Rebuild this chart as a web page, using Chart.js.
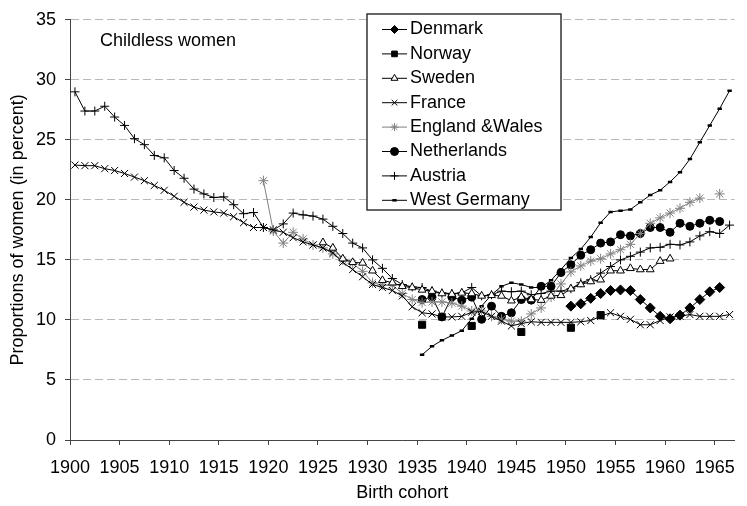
<!DOCTYPE html>
<html>
<head>
<meta charset="utf-8">
<title>Childless women</title>
<script src="https://cdn.jsdelivr.net/npm/chart.js@4.4.0/dist/chart.umd.min.js"></script>
<style>
  body { margin: 0; background: #fff; }
</style>
</head>
<body>
<canvas id="myChart" width="747" height="506"></canvas>
<script>
// birth cohorts, each series = first cohort + list of values (null = no data)
const denmarkStart = 1950
const denmark = [11.15, 11.35, 11.8, 12.2, 12.45, 12.5, 12.45, 11.7, 11.0, 10.3, 10.1, 10.4, 11.0, 11.7, 12.35, 12.7]

const norwayYears = [1935, 1940, 1945, 1950, 1953]
const norway = [9.6, 9.5, 9.0, 9.35, 10.4]

const swedenStart = 1925
const sweden = [16.45, 16.0, 15.1, 14.8, 14.75, 14.1, 13.3, 13.1, 12.8, 12.7,
  12.5, 12.4, 12.2, 12.15, 12.25, 12.2, 12.0, 12.05, 12.0, 11.6,
  11.9, 11.7, 11.65, 12.0, 12.05, 12.6, 12.95, 13.2, 13.35, 14.1,
  14.1, 14.3, 14.2, 14.2, 14.9, 15.1]

const franceStart = 1900
const france = [22.9, 22.85, 22.85, 22.6, 22.45, 22.2, 21.9, 21.6, 21.2, 20.8,
  20.3, 19.8, 19.4, 19.15, 19.0, 18.9, 18.6, 18.1, 17.7, 17.7,
  17.5, 17.3, 16.85, 16.5, 16.25, 16.0, 15.6, 14.8, 14.2, 13.6,
  12.95, 12.7, 12.45, 12.0, 11.1, 10.6, 10.5, 10.25, 10.25, 10.3,
  10.65, 10.7, 10.3, 9.9, 9.5, 9.7, 9.85, 9.8, 9.8, 9.8,
  9.8, 9.85, 9.95, 10.3, 10.6, 10.3, 10.05, 9.6, 9.6, 9.95,
  10.25, 10.3, 10.45, 10.3, 10.3, 10.3, 10.45]

const englandStart = 1919
const england = [21.6, 17.4, 16.4, 17.3, 16.75, 16.25, 16.0, 15.5, 15.0, 14.7,
  14.05, 13.1, 12.9, 12.9, 12.2, 11.7, 11.45, 11.5, 11.5, 11.4,
  11.15, 10.75, 10.75, 10.3, 10.05, 9.9, 9.9, 10.5, 11.0, 11.9,
  13.0, 14.0, 14.5, 14.9, 15.1, 15.5, 15.85, 16.3, 17.2, 18.05,
  18.5, 18.9, 19.3, 19.8, 20.15, null, 20.5]

const netherlandsStart = 1935
const netherlands = [11.7, 11.9, 10.25, 11.9, 11.65, 11.9, 10.05, 11.15, 10.3, 10.6,
  11.7, 11.65, 12.8, 12.8, 13.95, 14.6, 15.4, 15.85, 16.4, 16.5,
  17.1, 17.0, 17.2, 17.7, 17.7, 17.3, 18.05, 17.8, 18.05, 18.3, 18.2]

const austriaStart = 1900
const austria = [29.0, 27.4, 27.4, 27.8, 26.9, 26.2, 25.1, 24.6, 23.7, 23.5,
  22.45, 21.8, 20.9, 20.5, 20.2, 20.25, 19.6, 18.85, 18.95, 17.7,
  17.5, 18.0, 18.9, 18.75, 18.65, 18.4, 17.8, 17.2, 16.4, 16.0,
  15.0, 14.3, 13.45, 12.95, 12.75, 12.7, 12.4, 12.25, 12.2, 12.25,
  12.7, 12.0, 12.1, 12.4, 12.35, 12.4, 12.1, 12.2, 12.4, 12.4,
  12.6, 13.1, 13.35, 13.9, 14.45, 15.0, 15.3, 15.65, 16.0, 16.05,
  16.3, 16.25, 16.5, 17.0, 17.35, 17.2, 17.9]

const westGermanyStart = 1935
const westGermany = [7.1, 7.8, 8.3, 8.7, 9.1, 10.1, 11.15, 12.1, 12.8, 13.1,
  12.95, 12.7, 12.7, 13.3, 14.2, 15.15, 15.9, 16.9, 18.1, 19.0,
  19.1, 19.2, 19.8, 20.4, 20.8, 21.5, 22.3, 23.4, 24.8, 26.2,
  27.6, 29.1]

const yTicks = [0, 5, 10, 15, 20, 25, 30, 35]
const xFirst = 1900
const xLast = 1967

// a cohort is plotted in the middle of its year
function pts(start, values) {
  return values.map((v, i) => ({ x: start + i + 0.5, y: v }))
}

const ctx = document.getElementById('myChart')
const FONT = "'Liberation Sans', Arial, sans-serif"
Chart.defaults.font.family = FONT
Chart.defaults.font.size = 18
Chart.defaults.color = '#000'

const black = '#000'
const grey = '#808080'

const series = [
  { label: 'Denmark', data: pts(denmarkStart, denmark), pointStyle: 'rectRot', pointRadius: 5, borderColor: black, backgroundColor: black },
  { label: 'Norway', data: norwayYears.map((y, i) => ({ x: y + 0.5, y: norway[i] })), showLine: false, pointStyle: 'rect', pointRadius: 5, borderColor: black, backgroundColor: black },
  { label: 'Sweden', data: pts(swedenStart, sweden), pointStyle: 'triangle', pointRadius: 4.5, borderColor: black, backgroundColor: '#fff' },
  { label: 'France', data: pts(franceStart, france), pointStyle: 'crossRot', pointRadius: 5, borderColor: black, backgroundColor: black },
  { label: 'England &Wales', data: pts(englandStart, england), pointStyle: 'star', pointRadius: 5, borderColor: grey, backgroundColor: grey },
  { label: 'Netherlands', data: pts(netherlandsStart, netherlands), pointStyle: 'circle', pointRadius: 4, borderColor: black, backgroundColor: black },
  { label: 'Austria', data: pts(austriaStart, austria), pointStyle: 'cross', pointRadius: 4.5, borderColor: black, backgroundColor: black },
  { label: 'West Germany', data: pts(westGermanyStart, westGermany), pointStyle: 'line', pointRadius: 2.2, pointBorderWidth: 2.5, borderColor: black, backgroundColor: black }
]
series.forEach(s => {
  s.borderWidth = 1
  if (s.pointBorderWidth === undefined) s.pointBorderWidth = 1
  s.pointBackgroundColor = s.backgroundColor
  s.pointBorderColor = s.borderColor
  s.spanGaps = false
  s.tension = 0
})

// legend box inside the plot + the "Childless women" note
const boxLegend = {
  id: 'boxLegend',
  afterDraw(chart) {
    const c = chart.ctx
    c.save()
    c.fillStyle = '#fff'
    c.fillRect(367, 14, 194, 196)
    c.strokeStyle = '#333'
    c.lineWidth = 1.5
    c.strokeRect(367, 14, 194, 196)
    chart.data.datasets.forEach((ds, i) => {
      const y = 29.5 + i * 24.4
      c.strokeStyle = ds.borderColor
      c.lineWidth = 1
      c.beginPath()
      c.moveTo(382, y)
      c.lineTo(407, y)
      c.stroke()
      c.fillStyle = ds.pointBackgroundColor
      c.strokeStyle = ds.pointBorderColor
      c.lineWidth = ds.pointBorderWidth
      Chart.helpers.drawPoint(c, { pointStyle: ds.pointStyle, rotation: 0, radius: Math.min(ds.pointRadius, 4), borderWidth: ds.pointBorderWidth }, 394.5, y)
      c.fillStyle = '#000'
      c.font = '18px ' + FONT
      c.textBaseline = 'middle'
      c.textAlign = 'left'
      c.fillText(ds.label, 410, y)
    })
    c.font = '18px ' + FONT
    c.textBaseline = 'alphabetic'
    c.fillStyle = '#000'
    c.fillText('Childless women', 100, 46)
    c.restore()
  }
}

new Chart(ctx, {
  type: 'line',
  data: { datasets: series },
  options: {
    responsive: false,
    animation: false,
    devicePixelRatio: 1,
    layout: { padding: { top: 17, right: 9, left: 0, bottom: 0 } },
    plugins: { legend: { display: false }, tooltip: { enabled: false } },
    scales: {
      x: {
        type: 'linear',
        min: xFirst,
        max: xLast,
        afterFit: s => { s.height = 66 },
        ticks: { stepSize: 5, includeBounds: false, padding: 12, maxRotation: 0, callback: v => String(v) },
        grid: { drawOnChartArea: false, tickLength: 5, tickColor: '#444' },
        border: { color: '#444', width: 1 },
        title: { display: true, text: 'Birth cohort', padding: { top: 0, bottom: 2 } }
      },
      y: {
        min: 0,
        max: 35,
        afterFit: s => { s.width = 70 },
        afterBuildTicks: s => { s.ticks = yTicks.map(v => ({ value: v })) },
        ticks: { padding: 9 },
        grid: { color: '#b8b8b8', tickLength: 5, tickColor: '#444', tickBorderDash: [] },
        border: { color: '#444', width: 1, dash: [8, 4] },
        title: { display: true, text: 'Proportions of women (in percent)', padding: { top: 7, bottom: 0 } }
      }
    }
  },
  plugins: [boxLegend]
})
</script>
</body>
</html>
